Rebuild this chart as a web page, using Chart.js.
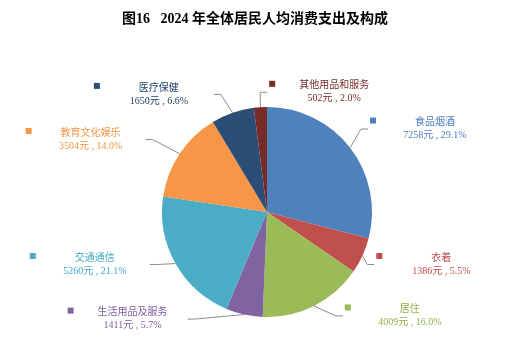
<!DOCTYPE html>
<html>
<head>
<meta charset="utf-8">
<script src="https://cdn.jsdelivr.net/npm/chart.js@4/dist/chart.umd.min.js"></script>
<style>
  html, body { margin: 0; padding: 0; background: #fff; }
  #wrap { width: 514px; height: 344px; position: relative; }
</style>
</head>
<body>
<div id="wrap"><canvas id="c" width="514" height="344"></canvas></div>
<script>
// 2024 年全体居民人均消费支出及构成
const categories = ['食品烟酒', '衣着', '居住', '生活用品及服务', '交通通信', '教育文化娱乐', '医疗保健', '其他用品和服务'];
const spending = [7258, 1386, 4009, 1411, 5260, 3504, 1650, 502];   // 元
const shareLabels = ['29.1', '5.5', '16.0', '5.7', '21.1', '14.0', '6.6', '2.0']; // %

const sliceColors = ['#4F81BD', '#C0504D', '#9BBB59', '#8064A2', '#4BACC6', '#F79646', '#2C4D75', '#772C2A'];
const textColors  = ['#4A7EBB', '#BE4B48', '#8FB04C', '#7A5FA0', '#3FA6C2', '#F29440', '#1F3F66', '#772C2A'];

// label block centres, in units of the pie radius, relative to the pie centre
const labelPlace = [
  [1.60, -0.79], [1.66, 0.50], [1.36, 0.99], [-1.28, 1.02],
  [-1.64, 0.50], [-1.68, -0.69], [-1.03, -1.12], [0.64, -1.14]
];

const TEXT_FONT = '10px "Liberation Serif", "Noto Sans CJK SC", sans-serif';

const labelPlugin = {
  id: 'sliceLabels',
  afterDatasetsDraw(chart) {
    const ctx = chart.ctx;
    const meta = chart.getDatasetMeta(0);
    ctx.save();
    meta.data.forEach((arc, i) => {
      const p = arc.getProps(['x', 'y', 'startAngle', 'endAngle', 'outerRadius'], true);
      const mid = (p.startAngle + p.endAngle) / 2;
      const r = p.outerRadius;
      const ax = p.x + Math.cos(mid) * r;
      const ay = p.y + Math.sin(mid) * r;
      const cx = p.x + labelPlace[i][0] * r;
      const cy = p.y + labelPlace[i][1] * r;
      const onRight = labelPlace[i][0] > 0;
      const markX = cx - 62;
      const line1Y = cy - 6.5;
      const line2Y = cy + 6.5;

      // leader line: slice edge -> elbow -> label
      const endX = onRight ? markX - 5 : cx + 55;
      const elbowX = onRight ? endX - 7 : endX + 7;
      ctx.strokeStyle = '#8C8C8C';
      ctx.lineWidth = 1;
      ctx.beginPath();
      ctx.moveTo(ax, ay);
      ctx.lineTo(elbowX, cy);
      ctx.lineTo(endX, cy);
      ctx.stroke();

      // legend key square
      ctx.fillStyle = sliceColors[i];
      ctx.fillRect(markX - 3, line1Y - 5, 6, 6);

      // two-line label
      ctx.fillStyle = textColors[i];
      ctx.font = TEXT_FONT;
      ctx.textAlign = 'center';
      ctx.textBaseline = 'middle';
      ctx.fillText(categories[i], cx, line1Y);
      ctx.fillText(spending[i] + '元 , ' + shareLabels[i] + '%', cx, line2Y);
    });

    // chart title
    ctx.fillStyle = '#000';
    ctx.font = '700 14px "Liberation Serif", "Noto Sans CJK SC", serif';
    ctx.textAlign = 'center';
    ctx.textBaseline = 'middle';
    ctx.fillText('图16   2024 年全体居民人均消费支出及构成', 255, 19);
    ctx.restore();
  }
};

new Chart(document.getElementById('c'), {
  type: 'pie',
  data: {
    labels: categories,
    datasets: [{
      data: spending,
      backgroundColor: sliceColors,
      borderWidth: 0
    }]
  },
  options: {
    responsive: false,
    animation: false,
    rotation: 0,
    layout: { padding: { top: 107, bottom: 27, left: 162, right: 142 } },
    plugins: {
      legend: { display: false },
      tooltip: { enabled: false },
      title: { display: false }
    }
  },
  plugins: [labelPlugin]
});
</script>
</body>
</html>
